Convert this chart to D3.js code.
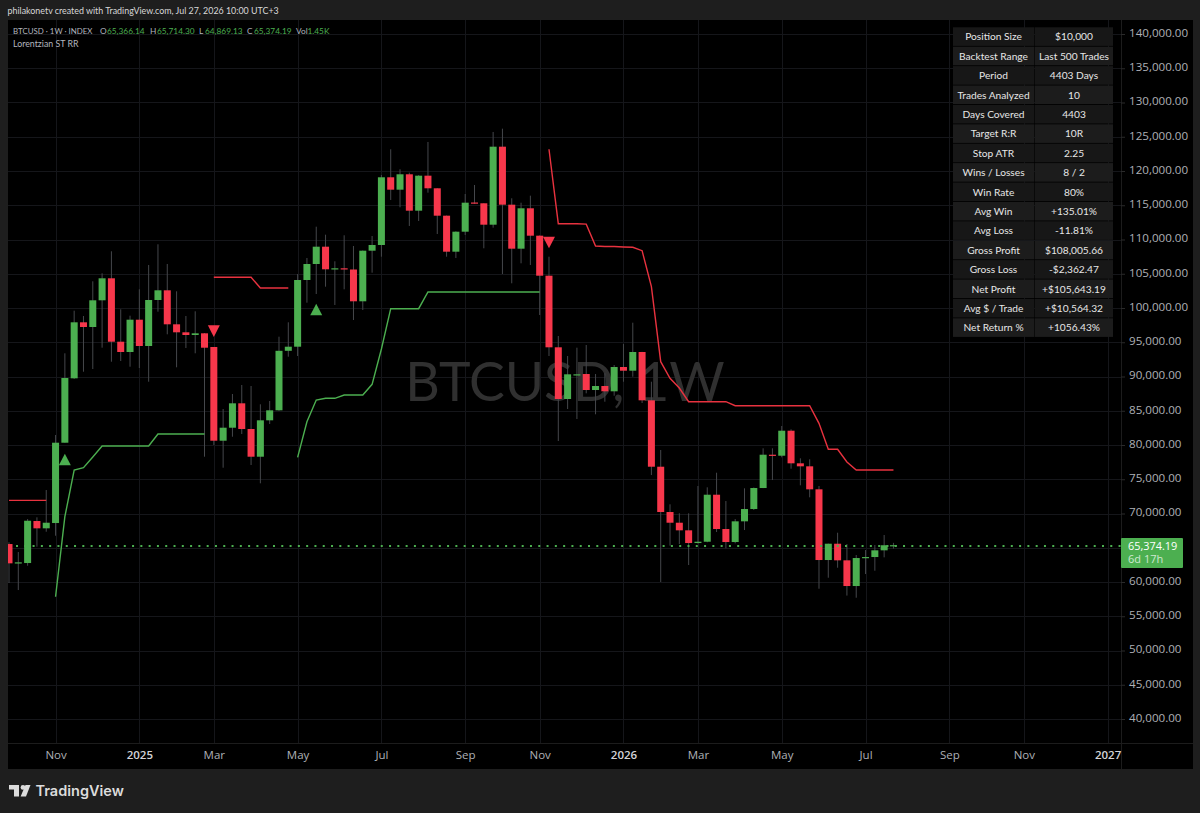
<!DOCTYPE html>
<html>
<head>
<meta charset="utf-8">
<script src="https://cdn.jsdelivr.net/npm/d3@7/dist/d3.min.js"></script>
<style>
html,body{margin:0;padding:0;background:#1e1e1e;}
svg{display:block;}
text{font-family:Lato,"Open Sans",sans-serif;}
</style>
</head>
<body>
<svg id="chart" width="1200" height="813"></svg>
<script>
// Weekly BTCUSD candles, one entry per week
const opens = [65544,62730,62770,68902,67836,68610,80334,89736,97912,97226,101124,104336,95080,93576,98292,94452,101168,102584,97620,96452,96058,96306,94306,80626,82524,86086,82334,78290,83604,85064,93751,94350,104088,106424,108950,105650,105796,105621,100978,108366,109198,119082,117272,119520,114206,119316,117476,113476,108220,111140,115400,115286,112162,123550,115082,108658,114556,110556,104716,94262,86714,90250,90364,88028,88612,87838,91386,90846,93576,86524,76830,70216,68654,67544,65690,65880,72742,67734,65836,68858,70654,73720,78582,78436,82086,77326,76888,73530,63208,65588,63164,59412,63500,63646,64624,65366.14];
const highs = [65800,64376,69194,69442,73428,81458,93386,99606,98832,103898,105066,108278,99810,98876,102730,106278,109300,106424,102438,98832,99518,96350,94306,85254,87444,88758,88612,85940,86422,95810,97912,104964,107300,111870,110702,106818,110614,109052,108400,110512,119418,123170,120250,119754,119400,124236,117500,113500,111200,116644,117958,115300,125696,126178,116016,115374,116396,110600,107490,95912,92992,94204,94598,90364,90466,91678,94744,97854,93600,89240,79268,71340,70026,70026,74012,73822,75954,71822,69194,73676,73800,79516,79516,82772,82290,78056,77910,74012,65600,67194,65544,63938,64668,65398,66858,65714.30];
const lows = [59850,58828,62376,65150,67340,66756,80334,89634,90700,91094,94204,92160,92262,91430,91240,89240,99460,96160,91342,94160,93386,78290,79998,76684,81210,81604,77078,74406,83064,85000,92890,92992,100774,102044,103110,100438,102730,98248,99708,105154,107490,115768,114702,111972,112702,116834,110804,107490,107300,110658,115200,108716,111724,104964,103606,106526,106278,98978,92992,80582,85254,83794,87546,84480,86320,87196,89240,89970,86130,75618,59996,65296,65544,62478,65600,65800,67296,64916,65646,67588,70508,73700,74888,78202,76538,74114,72362,59018,60624,62084,58016,57704,61164,61646,63602,64869.13];
const closes = [62726,62870,68946,67836,68654,80334,89780,97912,97226,101124,104336,95080,93576,98292,94452,101168,102584,97620,96452,96058,96306,94204,80626,82524,86086,82334,78290,83604,85064,93751,94350,104088,106424,108950,105650,105796,105621,100978,108366,109198,119082,117272,119520,114206,119316,117476,113476,108220,111140,115374,115286,112162,123550,115082,108658,114556,110556,104716,94262,86714,90320,90320,88028,88612,87838,91386,90846,93576,86524,76830,70216,68654,67544,65690,65880,72742,67734,65836,68858,70654,73720,78582,78436,82086,77326,76888,73530,63208,65588,63164,59412,63500,63646,64624,65366,65374.19];

// Lorentzian supertrend bands; null where the band is inactive
const trendDown = [71920,71920,71920,71920,71920,null,null,null,null,null,null,null,null,null,null,null,null,null,null,null,null,null,104480,104480,104480,104480,104480,102920,102920,102920,102920,null,null,null,null,null,null,null,null,null,null,null,null,null,null,null,null,null,null,null,null,null,null,null,null,null,null,null,123170,112308,112308,112308,112240,109052,108980,108980,108906,108860,108366,103110,92160,89736,88320,86320,86320,86320,86320,86320,85736,85736,85736,85736,85736,85736,85736,85736,85736,83166,79370,79370,77516,76348,76348,76348,76348,76348];
const trendUp = [null,null,null,null,null,57850,69530,76348,76684,78246,79852,79852,79852,79852,79852,79852,81604,81604,81604,81604,81604,81604,null,null,null,null,null,null,null,null,null,78202,83400,86568,86816,86816,87298,87298,87298,88860,94014,99898,99898,99898,99898,102336,102336,102336,102336,102336,102336,102336,102336,102336,102336,102336,102336,102336,null,null,null,null,null,null,null,null,null,null,null,null,null,null,null,null,null,null,null,null,null,null,null,null,null,null,null,null,null,null,null,null,null,null,null,null,null,null];

// Entry signals: week index and the price the arrow sits at
const buyWeeks = [6,33], buyPrices = [77600,99500];
const sellWeeks = [22,58], sellPrices = [96900,109850];

const lastPrice = 65374.19;
const priceTicks = d3.range(40000,140001,5000);
const timeTickWeeks = [5,14,22,31,40,49,57,66,74,83,92,101,109,118];
const timeTickLabels = ["Nov","2025","Mar","May","Jul","Sep","Nov","2026","Mar","May","Jul","Sep","Nov","2027"];

const statLabels = ["Position Size","Backtest Range","Period","Trades Analyzed","Days Covered","Target R:R","Stop ATR","Wins / Losses","Win Rate","Avg Win","Avg Loss","Gross Profit","Gross Loss","Net Profit","Avg $ / Trade","Net Return %"];
const statValues = ["$10,000","Last 500 Trades","4403 Days","10","4403","10R","2.25","8 / 2","80%","+135.01%","-11.81%","$108,005.66","-$2,362.47","+$105,643.19","+$10,564.32","+1056.43%"];

const legendTexts = ["BTCUSD · 1W · INDEX","O","65,366.14","H","65,714.30","L","64,869.13","C","65,374.19","Vol","1.45K"];

const UP = "#4caf50", DOWN = "#f7374b", GRID = "#15161a", WICK = "#45474b", MUTED = "#b2b5be";
const pane = {left:8,right:1121,top:20,bottom:743};
const legendX = [13,100,107,150,157,199,205,247,254,296,307.5];

const svg = d3.select("#chart");
const x = d3.scaleLinear().domain([0,118]).range([9,1107.6]);
const y = d3.scaleLinear().domain([140000,40000]).range([34,719]);

svg.append("rect").attr("width",1200).attr("height",813).attr("fill","#1e1e1e");
svg.append("rect").attr("x",pane.left).attr("y",pane.top).attr("width",1185).attr("height",749).attr("fill","#000");

svg.append("defs").append("clipPath").attr("id","pane").append("rect")
  .attr("x",pane.left).attr("y",pane.top).attr("width",pane.right-pane.left).attr("height",pane.bottom-pane.top);

// Grid
const grid = svg.append("g").attr("clip-path","url(#pane)");
grid.selectAll(".h").data(priceTicks).join("line")
  .attr("x1",pane.left).attr("x2",pane.right).attr("y1",d=>Math.round(y(d))+.5).attr("y2",d=>Math.round(y(d))+.5)
  .attr("stroke",GRID);
grid.selectAll(".v").data(timeTickWeeks).join("line")
  .attr("y1",pane.top).attr("y2",pane.bottom).attr("x1",d=>Math.round(x(d))+.5).attr("x2",d=>Math.round(x(d))+.5)
  .attr("stroke",GRID);

// Symbol watermark
svg.append("text").attr("x",565).attr("y",401).attr("text-anchor","middle")
  .attr("font-size",53.5).attr("fill","#303030").text("BTCUSD, 1W");

const marks = svg.append("g").attr("clip-path","url(#pane)");

// Candles
const weeks = d3.range(opens.length);
marks.selectAll(".wick").data(weeks).join("line")
  .attr("x1",i=>x(i)).attr("x2",i=>x(i))
  .attr("y1",i=>y(highs[i])).attr("y2",i=>y(lows[i]))
  .attr("stroke",WICK).attr("stroke-width",1);
marks.selectAll(".body").data(weeks).join("rect")
  .attr("x",i=>x(i)-3.5).attr("width",7)
  .attr("y",i=>Math.min(y(opens[i]),y(closes[i])))
  .attr("height",i=>Math.max(1.2,Math.abs(y(opens[i])-y(closes[i]))))
  .attr("fill",i=>closes[i]>=opens[i]?UP:DOWN);

// Last price dotted line
marks.append("line").attr("x1",pane.left+8).attr("x2",pane.right)
  .attr("y1",Math.round(y(lastPrice))+1).attr("y2",Math.round(y(lastPrice))+1)
  .attr("stroke",UP).attr("stroke-width",2).attr("stroke-dasharray","2 6.29");

// Supertrend bands
const band = d3.line().defined(d=>d!==null).x((d,i)=>x(i)).y(d=>y(d));
marks.append("path").attr("d",band(trendDown)).attr("fill","none").attr("stroke","#e8323f").attr("stroke-width",1.4);
marks.append("path").attr("d",band(trendUp)).attr("fill","none").attr("stroke",UP).attr("stroke-width",1.4);

// Signal arrows
const arrow = d3.symbol().type(d3.symbolTriangle).size(62);
marks.selectAll(".buy").data(buyWeeks).join("path").attr("d",arrow)
  .attr("transform",(d,i)=>`translate(${x(d)},${y(buyPrices[i])}) scale(1,1.12)`).attr("fill",UP);
marks.selectAll(".sell").data(sellWeeks).join("path").attr("d",arrow)
  .attr("transform",(d,i)=>`translate(${x(d)},${y(sellPrices[i])}) scale(1,-1.12)`).attr("fill",DOWN);

// Axis separators
svg.append("line").attr("x1",pane.right+.5).attr("x2",pane.right+.5).attr("y1",pane.top).attr("y2",769).attr("stroke","#1c1c1c");
svg.append("line").attr("x1",pane.left).attr("x2",1193).attr("y1",pane.bottom+.5).attr("y2",pane.bottom+.5).attr("stroke","#1c1c1c");

// Price axis; the last price tag takes the place of the 65,000 label
const priceAxis = svg.append("g").attr("transform",`translate(${pane.right},0)`)
  .call(d3.axisRight(y).tickValues(priceTicks).tickSize(4).tickPadding(4)
    .tickFormat(d=>d===65000?"":d3.format(",.2f")(d)));
priceAxis.select(".domain").remove();
priceAxis.selectAll("line").attr("stroke","#2a2a2a");
priceAxis.selectAll("text").attr("fill","#aeb0b6").attr("font-size",11.6).attr("dy","0.2em")
  .style("font-family","'Open Sans',sans-serif");

// Time axis
const timeAxis = svg.append("g").attr("transform",`translate(0,${pane.bottom})`)
  .call(d3.axisBottom(x).tickValues(timeTickWeeks).tickSize(0).tickPadding(8)
    .tickFormat((d,i)=>timeTickLabels[i]));
timeAxis.select(".domain").remove();
timeAxis.selectAll("text").attr("font-size",11.5).attr("fill",d=>(d===14||d===66||d===118)?"#d4d4d8":"#aeb0b6")
  .attr("font-weight",d=>(d===14||d===66||d===118)?600:400)
  .style("font-family","'Open Sans',sans-serif");

// Last price tag
svg.append("rect").attr("x",1121).attr("y",538).attr("width",62).attr("height",30).attr("rx",1).attr("fill",UP);
svg.append("text").attr("x",1128).attr("y",549.7).attr("font-size",10.9).attr("fill","#fff")
  .style("font-family","'Open Sans',sans-serif").text(d3.format(",.2f")(lastPrice));
svg.append("text").attr("x",1128).attr("y",563).attr("font-size",11).attr("fill","#cfe9d0")
  .style("font-family","'Open Sans',sans-serif").text("6d 17h");

// Statistics table
const rowH = 19.4, tableTop = 27.3;
const rows = svg.append("g").selectAll("g").data(statLabels).join("g")
  .attr("transform",(d,i)=>`translate(953,${tableTop+i*rowH})`);
rows.append("rect").attr("width",81).attr("height",rowH-.8).attr("fill",(d,i)=>i%2?"#1c1c1c":"#171717");
rows.append("rect").attr("x",81.6).attr("width",78.4).attr("height",rowH-.8).attr("fill",(d,i)=>i%2?"#1c1c1c":"#171717");
rows.append("text").attr("x",40.5).attr("y",13).attr("text-anchor","middle").attr("font-size",10.2).attr("fill","#e6e6e6").text(d=>d);
rows.append("text").attr("x",121).attr("y",13).attr("text-anchor","middle").attr("font-size",10.2).attr("fill","#e6e6e6").text((d,i)=>statValues[i]);

// Header and legend
svg.append("text").attr("x",7.5).attr("y",14).attr("font-size",8.9).attr("fill","#d8d8d8")
  .text("philakonetv created with TradingView.com, Jul 27, 2026 10:00 UTC+3");
svg.append("g").selectAll("text").data(legendTexts).join("text")
  .attr("x",(d,i)=>legendX[i]).attr("y",33.5)
  .attr("font-size",(d,i)=>i===0?7.9:8.3)
  .attr("fill",(d,i)=>(i>0&&i%2===0)?UP:MUTED).text(d=>d);
svg.append("text").attr("x",13).attr("y",46.5).attr("font-size",8.8).attr("fill",MUTED).text("Lorentzian ST RR");

// Footer brand mark
const brand = svg.append("g").attr("transform","translate(9,785)").attr("fill","#dcdcdc");
brand.append("path").attr("d","M0 0H10V11.5H5V4.6H0Z");
brand.append("circle").attr("cx",14).attr("cy",2.4).attr("r",2.4);
brand.append("path").attr("d","M16.5 0H21.5L17 11.5H11.6Z");
svg.append("text").attr("x",35.5).attr("y",796).attr("font-size",14.5).attr("font-weight",600).attr("fill","#dcdcdc")
  .style("font-family","Inter,'Open Sans',sans-serif").text("TradingView");
</script>
</body>
</html>
